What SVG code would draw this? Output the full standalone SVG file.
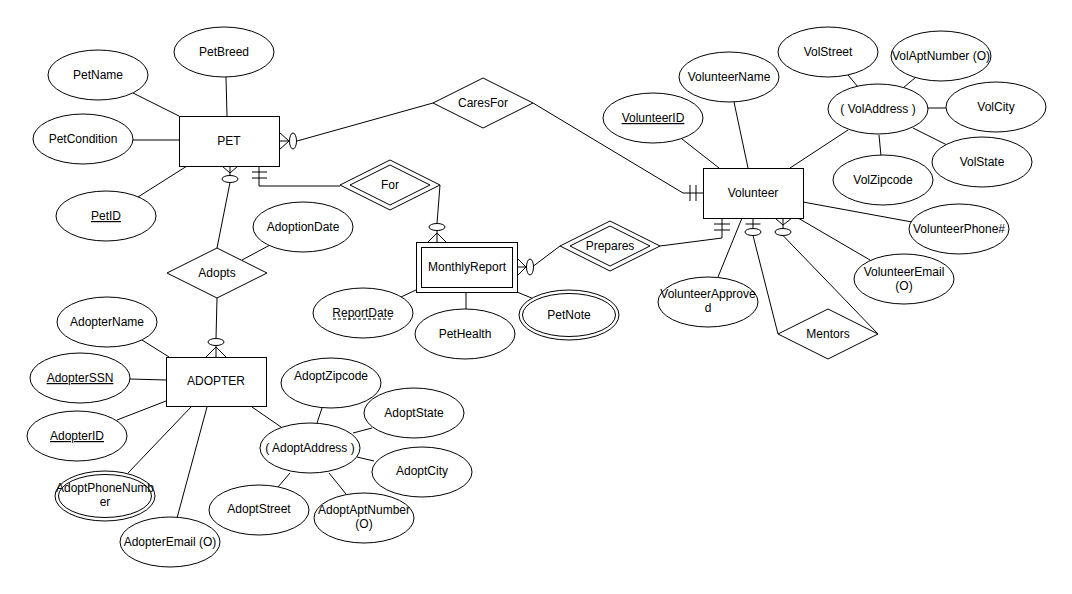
<svg xmlns="http://www.w3.org/2000/svg" width="1072" height="594" viewBox="0 0 1072 594">
<style>
  text { font-family: "Liberation Sans", Arial, Helvetica, sans-serif; font-size: 12px; fill: #000; text-anchor: middle; }
  .ent { fill: #fff; stroke: #000; stroke-width: 1; }
  .attr { fill: #fff; stroke: #000; stroke-width: 1; }
  .rel { fill: #fff; stroke: #000; stroke-width: 1; }
  .e { fill: none; stroke: #000; stroke-width: 1; }
  .o { fill: #fff; stroke: #000; stroke-width: 1; }
  .key { text-decoration: underline; }
</style>
<rect x="0" y="0" width="1072" height="594" fill="#fff"/>

<g id="connectors">
  <!-- PET attributes -->
  <line class="e" x1="133" y1="93" x2="179" y2="116"/>
  <line class="e" x1="226" y1="77" x2="227" y2="116"/>
  <line class="e" x1="133" y1="140" x2="179" y2="140"/>
  <line class="e" x1="138" y1="197" x2="187" y2="166"/>
  <!-- PET - CaresFor -->
  <path class="e" d="M279,132 L289,141 L279,150 M279,141 L289,141"/>
  <line class="e" x1="297" y1="141" x2="433" y2="103"/>
  <ellipse class="o" cx="293" cy="141" rx="3.5" ry="8"/>
  <!-- CaresFor - Volunteer -->
  <path class="e" d="M533,103 L683,193 L703,193 M690,185 L690,201 M696,185 L696,201"/>
  <!-- PET - For -->
  <path class="e" d="M259,166 L259,186 L340,186 M252,172 L267,172 M252,178 L267,178"/>
  <!-- For - MonthlyReport -->
  <line class="e" x1="440" y1="185" x2="437" y2="223.5"/>
  <path class="e" d="M428,242 L437,233 L446,242 M437,242 L437,230"/>
  <ellipse class="o" cx="437" cy="227" rx="8" ry="3.5"/>
  <!-- MonthlyReport - Prepares -->
  <path class="e" d="M517,258 L526,267 L517,276 M517,267 L526,267"/>
  <ellipse class="o" cx="530" cy="267" rx="3.5" ry="8"/>
  <line class="e" x1="533.5" y1="266" x2="560" y2="246"/>
  <!-- Prepares - Volunteer -->
  <path class="e" d="M660,246 L722,238 L722,218 M714,224 L730,224 M714,230 L730,230"/>
  <!-- PET - Adopts -->
  <path class="e" d="M222,166 L230,173 L238,166 M230,166 L230,175.5"/>
  <ellipse class="o" cx="230" cy="179" rx="8" ry="3.5"/>
  <line class="e" x1="230" y1="182.5" x2="217" y2="248"/>
  <!-- Adopts - ADOPTER -->
  <line class="e" x1="217" y1="298" x2="216" y2="338.5"/>
  <ellipse class="o" cx="216" cy="342" rx="8" ry="3.5"/>
  <path class="e" d="M206,357 L216,347 L226,357 M216,357 L216,345.5"/>
  <!-- AdoptionDate - Adopts -->
  <line class="e" x1="270" y1="245" x2="242" y2="260"/>
  <!-- MonthlyReport attributes -->
  <line class="e" x1="401" y1="297" x2="416" y2="290"/>
  <line class="e" x1="466" y1="292" x2="466" y2="309"/>
  <line class="e" x1="517" y1="292" x2="534" y2="299"/>
  <!-- Volunteer attributes -->
  <line class="e" x1="682" y1="139" x2="719" y2="168"/>
  <line class="e" x1="734" y1="102" x2="748" y2="168"/>
  <line class="e" x1="848" y1="130" x2="790" y2="168"/>
  <line class="e" x1="848" y1="75" x2="858" y2="87"/>
  <line class="e" x1="916" y1="77" x2="903" y2="88"/>
  <line class="e" x1="928" y1="108" x2="946" y2="108"/>
  <line class="e" x1="913" y1="128" x2="947" y2="145"/>
  <line class="e" x1="879" y1="135" x2="881" y2="156"/>
  <line class="e" x1="803" y1="202" x2="912" y2="222"/>
  <line class="e" x1="798" y1="218" x2="870" y2="260"/>
  <line class="e" x1="742" y1="218" x2="718" y2="277"/>
  <!-- Volunteer - Mentors -->
  <path class="e" d="M753,218 L753,228.5 M745.5,224 L760.5,224"/>
  <ellipse class="o" cx="753" cy="232" rx="8" ry="3.5"/>
  <line class="e" x1="753" y1="235.5" x2="778" y2="334"/>
  <path class="e" d="M775,218 L783,225 L792,218 M783,218 L783,228.5"/>
  <ellipse class="o" cx="783" cy="232" rx="8" ry="3.5"/>
  <line class="e" x1="783" y1="235.5" x2="878" y2="334"/>
  <!-- ADOPTER attributes -->
  <line class="e" x1="142" y1="340" x2="169" y2="357"/>
  <line class="e" x1="130" y1="379" x2="166" y2="380"/>
  <line class="e" x1="117" y1="420" x2="166" y2="401"/>
  <line class="e" x1="128" y1="473" x2="191" y2="407"/>
  <line class="e" x1="177" y1="518" x2="207" y2="407"/>
  <line class="e" x1="252" y1="407" x2="281" y2="427"/>
  <!-- AdoptAddress attributes -->
  <line class="e" x1="324" y1="402" x2="317" y2="423"/>
  <line class="e" x1="372" y1="428" x2="353" y2="433"/>
  <line class="e" x1="357" y1="457" x2="374" y2="461"/>
  <line class="e" x1="290" y1="473" x2="278" y2="487"/>
  <line class="e" x1="329" y1="473" x2="346" y2="494"/>
</g>

<!-- Entities -->
<g id="PET">
  <rect class="ent" x="179.5" y="116.5" width="100" height="50"/>
  <text x="229" y="145">PET</text>
</g>
<g id="Volunteer">
  <rect class="ent" x="703.5" y="168.5" width="100" height="50"/>
  <text x="753" y="197">Volunteer</text>
</g>
<g id="MonthlyReport">
  <rect class="ent" x="416.5" y="242.5" width="101" height="50"/>
  <rect class="ent" x="421.5" y="247.5" width="91" height="40"/>
  <text x="467" y="271">MonthlyReport</text>
</g>
<g id="ADOPTER">
  <rect class="ent" x="166.5" y="357.5" width="100" height="49"/>
  <text x="216" y="385">ADOPTER</text>
</g>

<!-- Relationships -->
<g id="CaresFor">
  <polygon class="rel" points="433,103 483,78 533,103 483,128"/>
  <text x="483" y="107">CaresFor</text>
</g>
<g id="For">
  <polygon class="rel" points="340,185 390,160 440,185 390,210"/>
  <polygon class="rel" points="350,185 390,165 430,185 390,205"/>
  <text x="390" y="189">For</text>
</g>
<g id="Prepares">
  <polygon class="rel" points="560,246 610,221 660,246 610,271"/>
  <polygon class="rel" points="570,246 610,226 650,246 610,266"/>
  <text x="610" y="250">Prepares</text>
</g>
<g id="Adopts">
  <polygon class="rel" points="167,273 217,248 267,273 217,298"/>
  <text x="217" y="277">Adopts</text>
</g>
<g id="Mentors">
  <polygon class="rel" points="778,334 828,309 878,334 828,359"/>
  <text x="828" y="338">Mentors</text>
</g>

<!-- Attributes -->
<g id="PetBreed"><ellipse class="attr" cx="224" cy="52" rx="50" ry="25"/><text x="224" y="56">PetBreed</text></g>
<g id="PetName"><ellipse class="attr" cx="98" cy="75" rx="50" ry="25"/><text x="98" y="79">PetName</text></g>
<g id="PetCondition"><ellipse class="attr" cx="83" cy="139" rx="50" ry="25"/><text x="83" y="143">PetCondition</text></g>
<g id="PetID"><ellipse class="attr" cx="106" cy="216" rx="50" ry="25"/><text class="key" x="106" y="220">PetID</text></g>
<g id="AdoptionDate"><ellipse class="attr" cx="303" cy="227" rx="50" ry="25"/><text x="303" y="231">AdoptionDate</text></g>
<g id="ReportDate"><ellipse class="attr" cx="363" cy="313" rx="50" ry="25"/><text x="363" y="317">ReportDate</text><line x1="333" y1="319" x2="393" y2="319" stroke="#000" stroke-width="1" stroke-dasharray="3,2"/></g>
<g id="PetHealth"><ellipse class="attr" cx="465" cy="334" rx="50" ry="25"/><text x="465" y="338">PetHealth</text></g>
<g id="PetNote"><ellipse class="attr" cx="569" cy="315" rx="50" ry="25"/><ellipse class="attr" cx="569" cy="315" rx="46.5" ry="21.5"/><text x="569" y="319">PetNote</text></g>
<g id="VolunteerID"><ellipse class="attr" cx="653" cy="118" rx="50" ry="25"/><text class="key" x="653" y="122">VolunteerID</text></g>
<g id="VolunteerName"><ellipse class="attr" cx="729" cy="77" rx="50" ry="25"/><text x="729" y="81">VolunteerName</text></g>
<g id="VolStreet"><ellipse class="attr" cx="828" cy="52" rx="50" ry="25"/><text x="828" y="56">VolStreet</text></g>
<g id="VolAptNumber"><ellipse class="attr" cx="941" cy="56" rx="50" ry="25"/><text x="941" y="60">VolAptNumber (O)</text></g>
<g id="VolAddress"><ellipse class="attr" cx="878" cy="109" rx="50" ry="25"/><text x="878" y="113">( VolAddress )</text></g>
<g id="VolCity"><ellipse class="attr" cx="996" cy="107" rx="50" ry="25"/><text x="996" y="111">VolCity</text></g>
<g id="VolState"><ellipse class="attr" cx="982" cy="162" rx="50" ry="25"/><text x="982" y="166">VolState</text></g>
<g id="VolZipcode"><ellipse class="attr" cx="883" cy="180" rx="50" ry="25"/><text x="883" y="184">VolZipcode</text></g>
<g id="VolunteerPhone"><ellipse class="attr" cx="959" cy="229" rx="50" ry="25"/><text x="959" y="233">VolunteerPhone#</text></g>
<g id="VolunteerEmail"><ellipse class="attr" cx="904" cy="279" rx="50" ry="25"/><text x="904" y="276">VolunteerEmail</text><text x="904" y="290">(O)</text></g>
<g id="VolunteerApproved"><ellipse class="attr" cx="708" cy="302" rx="50" ry="25"/><text x="708" y="298">VolunteerApprove</text><text x="708" y="312">d</text></g>
<g id="AdopterName"><ellipse class="attr" cx="107" cy="322" rx="50" ry="25"/><text x="107" y="326">AdopterName</text></g>
<g id="AdopterSSN"><ellipse class="attr" cx="80" cy="378" rx="50" ry="25"/><text class="key" x="80" y="382">AdopterSSN</text></g>
<g id="AdopterID"><ellipse class="attr" cx="77" cy="436" rx="50" ry="25"/><text class="key" x="77" y="440">AdopterID</text></g>
<g id="AdoptPhoneNumber"><ellipse class="attr" cx="105" cy="496" rx="50" ry="25"/><ellipse class="attr" cx="105" cy="496" rx="46.5" ry="21.5"/><text x="105" y="492">AdoptPhoneNumb</text><text x="105" y="506">er</text></g>
<g id="AdopterEmail"><ellipse class="attr" cx="170" cy="542" rx="50" ry="25"/><text x="170" y="546">AdopterEmail (O)</text></g>
<g id="AdoptZipcode"><ellipse class="attr" cx="331" cy="383" rx="50" ry="25"/><text x="331" y="380">AdoptZipcode</text></g>
<g id="AdoptState"><ellipse class="attr" cx="414" cy="413" rx="50" ry="25"/><text x="414" y="417">AdoptState</text></g>
<g id="AdoptAddress"><ellipse class="attr" cx="310" cy="448" rx="50" ry="25"/><text x="310" y="452">( AdoptAddress )</text></g>
<g id="AdoptCity"><ellipse class="attr" cx="422" cy="472" rx="50" ry="25"/><text x="422" y="475">AdoptCity</text></g>
<g id="AdoptStreet"><ellipse class="attr" cx="259" cy="510" rx="50" ry="25"/><text x="259" y="513">AdoptStreet</text></g>
<g id="AdoptAptNumber"><ellipse class="attr" cx="364" cy="518" rx="50" ry="25"/><text x="364" y="514">AdoptAptNumber</text><text x="364" y="528">(O)</text></g>
</svg>
